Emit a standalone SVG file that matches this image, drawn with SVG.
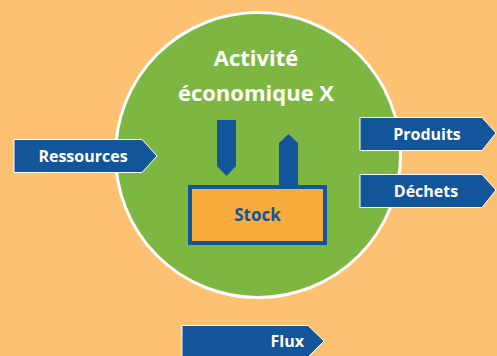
<svg xmlns="http://www.w3.org/2000/svg" width="497" height="356" viewBox="0 0 497 356">
<style>
.arrow{fill:#13559B;stroke:#ffffff;stroke-width:1}
.lbl{font-family:"Open Sans","Liberation Sans",sans-serif;font-weight:bold;fill:#ffffff;font-size:16px}
.title{font-family:"Open Sans","Liberation Sans",sans-serif;font-weight:bold;fill:#ffffff;font-size:22px;text-anchor:middle}
</style>
<rect width="497" height="356" fill="#FDC171"/>
<g id="activite">
<circle cx="258" cy="155" r="142.5" fill="#7DB742" stroke="#ffffff" stroke-width="3"/>
<text class="title" x="256" y="66">Activité</text>
<text class="title" x="256" y="101">économique X</text>
</g>
<g id="connectors">
<polygon points="217,120 236,120 236,166 226.5,176 217,166" fill="#13559B"/>
<polygon points="279,143 288.5,134 298,143 298,186 279,186" fill="#13559B"/>
</g>
<g id="stock">
<rect x="190" y="187" width="135" height="56" fill="#F9AB3B" stroke="#13559B" stroke-width="4"/>
<text class="lbl" x="257.5" y="221" text-anchor="middle" style="fill:#13559B;font-size:17px">Stock</text>
</g>
<g id="ressources">
<polygon class="arrow" points="14,139.5 142,139.5 157,156 142,172.5 14,172.5"/>
<text class="lbl" x="83" y="161.5" text-anchor="middle">Ressources</text>
</g>
<g id="produits">
<polygon class="arrow" points="360,117.5 482,117.5 496,133 482,150.5 360,150.5"/>
<text class="lbl" x="427" y="139.5" text-anchor="middle">Produits</text>
</g>
<g id="dechets">
<polygon class="arrow" points="360,174.5 482,174.5 496,190 482,207.5 360,207.5"/>
<text class="lbl" x="426" y="196.5" text-anchor="middle">Déchets</text>
</g>
<g id="flux">
<polygon class="arrow" points="182,325.5 308,325.5 324,341 308,357 182,357"/>
<text class="lbl" x="304" y="346.5" text-anchor="end">Flux</text>
</g>
</svg>
